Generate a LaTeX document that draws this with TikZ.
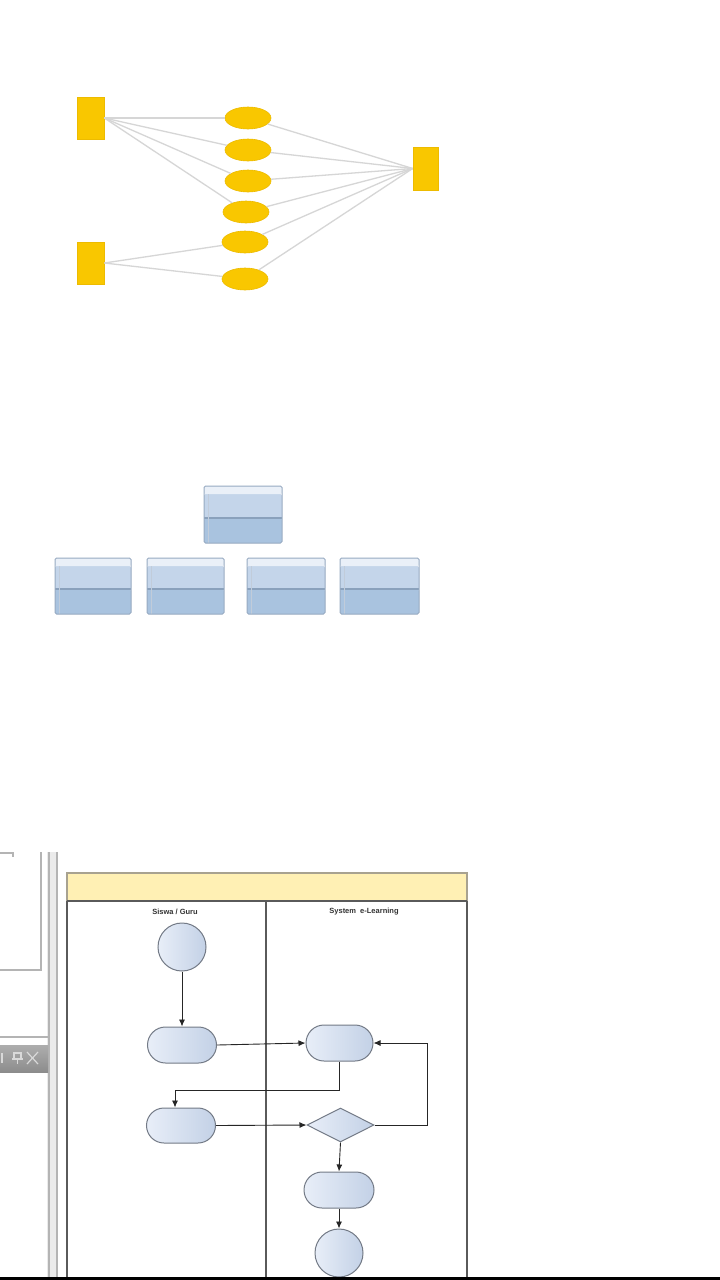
\documentclass[tikz,border=0pt]{standalone}
\usepackage{fontspec}
\setmainfont{Liberation Sans}
\usetikzlibrary{shapes.geometric,shapes.misc,arrows.meta}
\definecolor{yel}{HTML}{F9C700}
\definecolor{yeledge}{HTML}{EDBB00}
\definecolor{glines}{HTML}{D6D6D6}
\definecolor{boxtop}{HTML}{EAF0F8}
\definecolor{boxup}{HTML}{C4D5EA}
\definecolor{boxlow}{HTML}{A9C3DF}
\definecolor{boxedge}{HTML}{97AAC1}
\definecolor{boxmid}{HTML}{8AA1BC}
\definecolor{hdr}{HTML}{FFF0B4}
\definecolor{hdredge}{HTML}{A8A290}
\definecolor{lane}{HTML}{5A5A5A}
\definecolor{actl}{HTML}{E8EEF8}
\definecolor{actr}{HTML}{C3D1E6}
\definecolor{actedge}{HTML}{737A86}
\definecolor{win}{HTML}{B4B4B4}
\tikzset{
  yrect/.style={rectangle,fill=yel,draw=yeledge,line width=0.6,minimum width=27,minimum height=42,inner sep=0},
  yell/.style={ellipse,fill=yel,draw=yeledge,line width=0.6,minimum width=46,minimum height=22,inner sep=0},
  gl/.style={glines,line width=1.3},
  orgbox/.style={draw=boxedge,line width=1,minimum width=77,minimum height=56,inner sep=0,rounded corners=1.5,
    path picture={
      \fill[boxlow] (path picture bounding box.south west) rectangle ([yshift=25pt]path picture bounding box.south east);
      \fill[boxup] ([yshift=25pt]path picture bounding box.south west) rectangle ([yshift=-8pt]path picture bounding box.north east);
      \fill[boxtop] ([yshift=-8pt]path picture bounding box.north west) rectangle (path picture bounding box.north east);
      \draw[boxmid,line width=1.2] ([yshift=25pt]path picture bounding box.south west) -- ([yshift=25pt]path picture bounding box.south east);
      \draw[boxedge!60,line width=0.6] ([xshift=4pt]path picture bounding box.south west) -- ([xshift=4pt,yshift=-8pt]path picture bounding box.north west);
    }},
  act/.style={rounded rectangle,draw=actedge,line width=1,left color=actl,right color=actr,minimum width=69,minimum height=36,inner sep=0},
  circ/.style={circle,draw=actedge,line width=1,left color=actl,right color=actr,minimum size=48,inner sep=0},
  dec/.style={diamond,draw=actedge,line width=1,left color=actl,right color=actr,minimum width=67,minimum height=34,inner sep=0},
  flow/.style={draw=black!85,line width=0.9,-{Latex[length=7pt,width=6pt]}},
  ttl/.style={font=\bfseries\fontsize{7.5}{8}\selectfont,text=black!80,inner sep=0}
}
\begin{document}
\begin{tikzpicture}[x=1pt,y=-1pt]
\useasboundingbox (0,0) rectangle (720,1280);
\fill[white] (0,0) rectangle (720,1280);

% --- section 1: yellow network
\node[yrect] (r1) at (90.5,118) {};
\node[yrect] (r2) at (90.5,263) {};
\node[yrect,minimum width=25,minimum height=43] (r3) at (425.5,168.5) {};
\node[yell] (e1) at (248,118) {};
\node[yell] (e2) at (248,150) {};
\node[yell] (e3) at (248,181) {};
\node[yell] (e4) at (246,212) {};
\node[yell] (e5) at (245,242) {};
\node[yell] (e6) at (245,279) {};
\foreach \e in {e1,e2,e3,e4}{\draw[gl] (r1.east) -- (\e);}
\foreach \e in {e5,e6}{\draw[gl] (r2.east) -- (\e);}
\foreach \e in {e1,e2,e3,e4,e5,e6}{\draw[gl] (r3.west) -- (\e);}

% --- section 2: org boxes
\node[orgbox,minimum width=78,minimum height=57] (t0) at (243,514.5) {};
\node[orgbox,minimum width=76] (b1) at (93,586) {};
\node[orgbox] (b2) at (185.5,586) {};
\node[orgbox,minimum width=78] (b3) at (286,586) {};
\node[orgbox,minimum width=79] (b4) at (379.5,586) {};

% --- section 3: window remnants
\draw[win,line width=1.2] (0,853) -- (13,853) -- (13,857);
\draw[win,line width=1.5] (41,852) -- (41,970) -- (0,970);
\fill[black!8] (47,852) rectangle (58,1280);
\draw[win,line width=2] (48.5,852) -- (48.5,1280);
\draw[win,line width=2] (56.5,852) -- (56.5,1280);
\draw[win,line width=1.2] (0,1037) -- (48,1037);
\shade[top color=black!32,bottom color=black!45] (0,1045) rectangle (48,1072);
\draw[white!85!black,line width=1.2] (2,1053) -- (2,1063);
\draw[white!85!black,line width=1.2] (14,1053) rectangle (21,1059) (17.5,1059) -- (17.5,1064) (12,1059) -- (23,1059);
\draw[white!85!black,line width=1.2] (27,1052) -- (38,1064) (38,1052) -- (27,1064);

% --- swimlane
\fill[hdr] (67,873) rectangle (467,901);
\draw[hdredge,line width=1.2] (67,901) -- (67,873) -- (467,873) -- (467,901);
\draw[lane,line width=1.5] (67,901) -- (467,901);
\draw[lane,line width=1.5] (67,901) -- (67,1280);
\draw[lane,line width=1.5] (266,901) -- (266,1280);
\draw[lane,line width=1.5] (467,901) -- (467,1280);
\node[ttl] (l1) at (175,912) {Siswa / Guru};
\node[ttl] (l2) at (364,912) {System\ \ e-Learning};

\node[circ] (s) at (182,947) {};
\node[act] (a1) at (182,1045) {};
\node[act,minimum width=67] (a2) at (339.5,1043) {};
\node[act,minimum height=35] (a3) at (181,1125.5) {};
\node[dec] (d) at (340.5,1125) {};
\node[act,minimum width=70] (a4) at (339,1190) {};
\node[circ] (e) at (339,1253) {};

\draw[flow] (s) -- (a1);
\draw[flow] (a1.east) -- (a2.west);
\draw[flow] (a2.south) -- ++(0,29) -| ([xshift=-6pt]a3.north);
\draw[flow] (a3.east) -- (d.west);
\coordinate (k) at ([xshift=54pt]a2.east);
\draw[flow] (d.east) -| (k) -- (a2.east);
\draw[flow] (d.south) -- (a4.north);
\draw[flow] (a4) -- (e);

% bottom black bar
\fill[black] (0,1277) rectangle (720,1280);
\end{tikzpicture}
\end{document}
